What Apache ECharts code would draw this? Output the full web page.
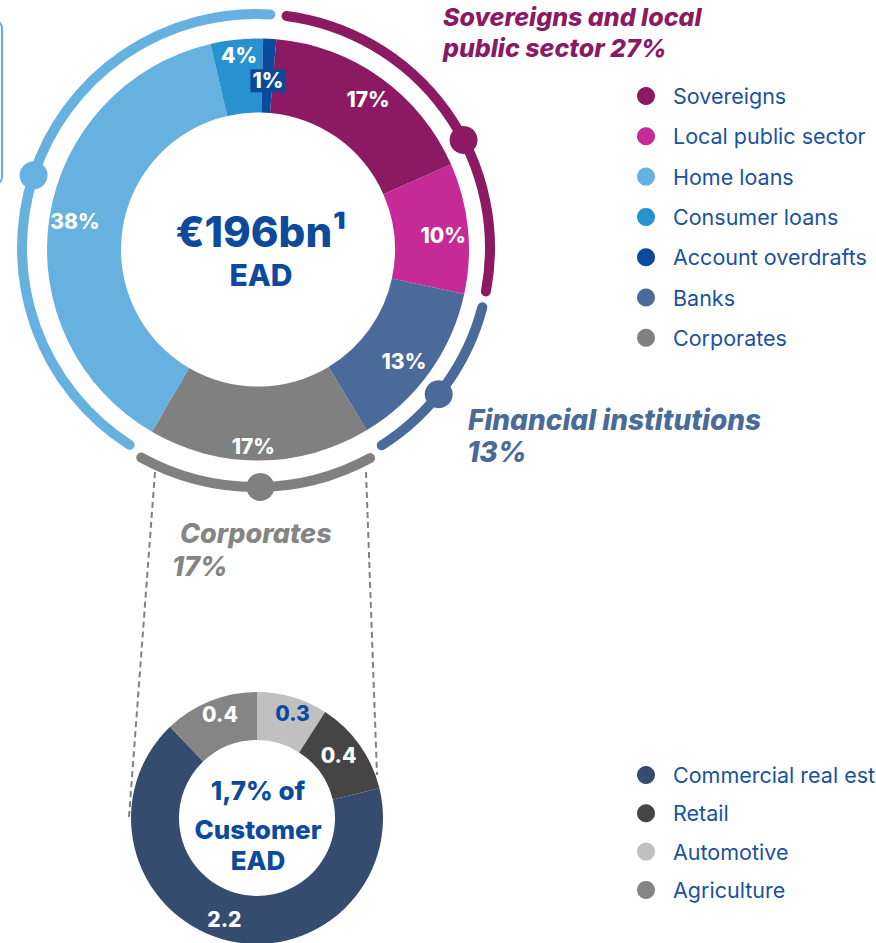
<!DOCTYPE html>
<html><head><meta charset="utf-8">
<script src="https://cdn.jsdelivr.net/npm/echarts@6/dist/echarts.min.js"></script>
<style>html,body{margin:0;padding:0;background:#fff;overflow:hidden}#c{width:876px;height:943px}</style>
</head><body><div id="c"></div>
<script>
// ---------- data ----------
const mainNames = ['Sovereigns', 'Local public sector', 'Banks', 'Corporates', 'Home loans', 'Consumer loans', 'Account overdrafts'];
const mainValues = [17, 10, 13, 17, 38, 4, 1];
const mainLegendOrder = ['Sovereigns', 'Local public sector', 'Home loans', 'Consumer loans', 'Account overdrafts', 'Banks', 'Corporates'];
const groupTitles = ['Sovereigns and local|public sector', 'Financial institutions|', 'Corporates|', ''];
const groupMembers = [[0, 1], [2], [3], [4, 5, 6]];
const totalText = '€196bn¹';
const totalSub = 'EAD';
const corpNames = ['Automotive', 'Retail', 'Commercial real estate', 'Agriculture'];
const corpValues = [0.3, 0.4, 2.2, 0.4];
const corpLegendOrder = ['Commercial real estate', 'Retail', 'Automotive', 'Agriculture'];
const corpCenterLines = ['1,7% of', 'Customer', 'EAD'];

// ---------- styles / layout ----------
const mainColors = ['#8b1a63', '#c52a96', '#4a6a9a', '#808080', '#66b1e0', '#2891cf', '#0a4a9a'];
const groupColors = ['#8b1a63', '#4a6a9a', '#808080', '#66b1e0'];
const corpColors = ['#c0c0c0', '#454545', '#364c6e', '#858585'];
const FONT = 'Inter, "Open Sans", sans-serif';
const C1 = [258, 249.5], R1 = [137, 211], START1 = 85;
const C2 = [257, 818], R2 = [78, 126];
const ARC_C = [256, 248], ARC_R = [234, 234, 239, 234], ARC_W = 10, DOT_R = 14;
const arcInsetStart = 2.5, arcInsetEnd = -1.5;
const dotFrac = [0.59, 0.56, 0.48, 0.5];
const mainLabelShift = [[7, -6], [9, 4], [2, 9], [-6, 20], [-8, -2], [-1, -18], [0, 8]];
const corpLabelShift = [[6, -4], [-4, -2], [-3, 1], [2, -6]];
const titleBlocks = [
  {x: 443, y: 17, size: 25, color: '#8b1a63', dy: 31},
  {x: 468, y: 420, size: 28, color: '#4a6a9a', dy: 32},
  {x: 180, y: 533, size: 27, color: '#858585', x2: 172, dy: 33}
];

const total = mainValues.reduce((a, b) => a + b, 0);
const chart = echarts.init(document.getElementById('c'), null, {renderer: 'svg'});

const graphics = [];
let cum = 0;
const deg = Math.PI / 180;
groupMembers.forEach((mem, gi) => {
  const sum = mem.reduce((a, i) => a + mainValues[i], 0);
  const a0 = START1 - cum / total * 360;
  const a1 = START1 - (cum + sum) / total * 360;
  cum += sum;
  const s = a0 - arcInsetStart, e = a1 - arcInsetEnd;
  const r = ARC_R[gi];
  graphics.push({
    type: 'arc', silent: true,
    shape: {cx: ARC_C[0], cy: ARC_C[1], r: r, startAngle: -s * deg, endAngle: -e * deg, clockwise: true},
    style: {fill: 'none', stroke: groupColors[gi], lineWidth: ARC_W, lineCap: 'round'}
  });
  const da = s + (e - s) * dotFrac[gi];
  graphics.push({
    type: 'circle', silent: true,
    shape: {cx: ARC_C[0] + r * Math.cos(da * deg), cy: ARC_C[1] - r * Math.sin(da * deg), r: DOT_R},
    style: {fill: groupColors[gi]}
  });
  if (gi < 3) {
    const tb = titleBlocks[gi];
    const parts = groupTitles[gi].split('|');
    const l1 = parts[0];
    const l2 = (parts[1] ? parts[1] + ' ' : '') + sum + '%';
    const f = 'italic 800 ' + tb.size + 'px ' + FONT;
    graphics.push({type: 'text', silent: true, x: tb.x, y: tb.y,
      style: {text: l1, fill: tb.color, font: f, textAlign: 'left', textVerticalAlign: 'middle'}});
    graphics.push({type: 'text', silent: true, x: tb.x2 || tb.x - (gi === 0 ? 0 : 1), y: tb.y + tb.dy,
      style: {text: l2, fill: tb.color, font: f, textAlign: 'left', textVerticalAlign: 'middle'}});
  }
});

graphics.push({type: 'text', silent: true, x: C1[0] + 3, y: 231,
  style: {text: totalText, fill: '#0b4a9c', font: '800 42px ' + FONT, textAlign: 'center', textVerticalAlign: 'middle'}});
graphics.push({type: 'text', silent: true, x: C1[0] + 3, y: 275,
  style: {text: totalSub, fill: '#0b4a9c', font: '800 30px ' + FONT, textAlign: 'center', textVerticalAlign: 'middle'}});
[790, 829, 860].forEach((y, i) => graphics.push({type: 'text', silent: true, x: C2[0] + 1, y: y,
  style: {text: corpCenterLines[i], fill: '#0b4a9c', font: '800 26px ' + FONT, textAlign: 'center', textVerticalAlign: 'middle'}}));

graphics.push({type: 'line', silent: true, shape: {x1: 155, y1: 472, x2: 129, y2: 817},
  style: {stroke: '#808080', lineWidth: 2, lineDash: [6, 4]}});
graphics.push({type: 'line', silent: true, shape: {x1: 366, y1: 472, x2: 377, y2: 775},
  style: {stroke: '#808080', lineWidth: 2, lineDash: [6, 4]}});
graphics.push({type: 'rect', silent: true, shape: {x: -60, y: 21, width: 62, height: 163, r: 7},
  style: {fill: 'none', stroke: '#66b1e0', lineWidth: 2}});

const legendText = {color: '#1a52a0', fontSize: 21.5, lineHeight: 18, fontFamily: FONT, padding: [0, 0, 0, 13]};

chart.setOption({
  animation: false,
  backgroundColor: '#fff',
  legend: [
    {data: mainLegendOrder, orient: 'vertical', left: 637, top: 85, itemWidth: 18, itemHeight: 18, itemGap: 18.3,
     icon: 'circle', textStyle: legendText, selectedMode: false, padding: 0},
    {data: corpLegendOrder, orient: 'vertical', left: 637, top: 764, itemWidth: 18, itemHeight: 18, itemGap: 16.3,
     icon: 'circle', textStyle: legendText, selectedMode: false, padding: 0}
  ],
  series: [
    {
      type: 'pie', center: C1, radius: R1, startAngle: START1, clockwise: true, silent: true,
      avoidLabelOverlap: false,
      data: mainNames.map((n, i) => ({name: n, value: mainValues[i], itemStyle: {color: mainColors[i]},
        label: i === 6 ? {backgroundColor: '#0a4a9a', padding: [2, 2, 0, 2]} : {}})),
      label: {show: true, position: 'inside', formatter: '{c}%', color: '#fff', fontSize: 21, fontWeight: 800, fontFamily: FONT},
      labelLine: {show: false},
      labelLayout: p => ({dx: mainLabelShift[p.dataIndex][0], dy: mainLabelShift[p.dataIndex][1]})
    },
    {
      type: 'pie', center: C2, radius: R2, startAngle: 90, clockwise: true, silent: true,
      avoidLabelOverlap: false,
      data: corpNames.map((n, i) => ({name: n, value: corpValues[i], itemStyle: {color: corpColors[i]},
        label: i === 0 ? {color: '#0b4a9c'} : {}})),
      label: {show: true, position: 'inside', formatter: '{c}', color: '#fff', fontSize: 21, fontWeight: 800, fontFamily: FONT},
      labelLine: {show: false},
      labelLayout: p => ({dx: corpLabelShift[p.dataIndex][0], dy: corpLabelShift[p.dataIndex][1]})
    }
  ],
  graphic: {elements: graphics}
});
</script>
</body></html>
